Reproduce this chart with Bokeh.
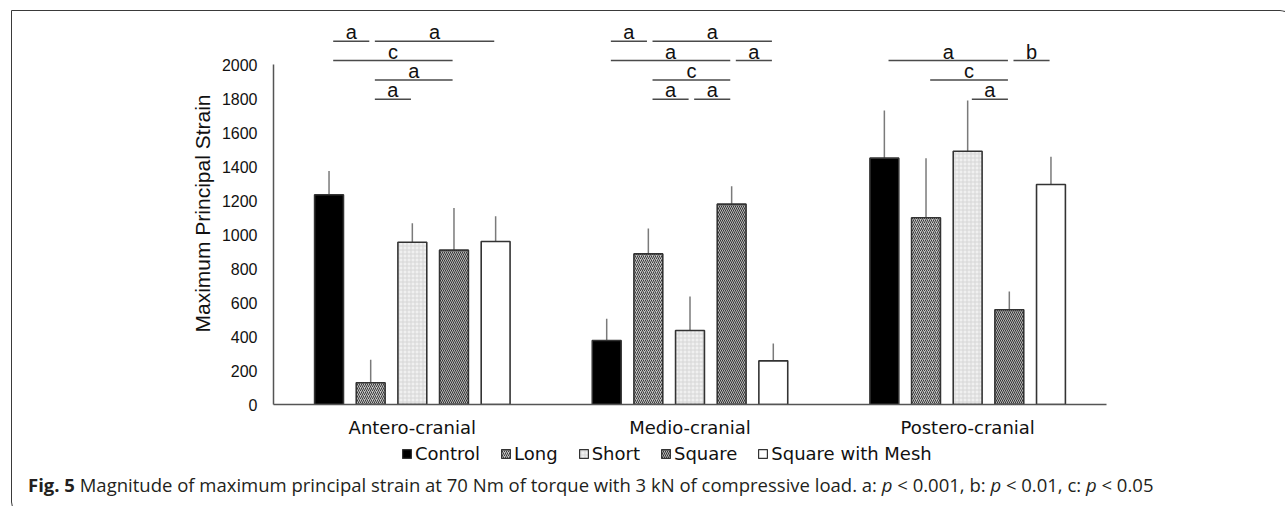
import numpy as np
from bokeh.plotting import figure
from bokeh.models import (Range1d, FixedTicker, ColumnDataSource, Legend,
                          LegendItem, Div)
from bokeh.layouts import column
from bokeh.embed import file_html
from bokeh.resources import INLINE
from bokeh.core.properties import value

# ---------------- data ----------------
categories = ["Antero-cranial", "Medio-cranial", "Postero-cranial"]
series = ["Control", "Long", "Short", "Square", "Square with Mesh"]

control = [1235, 377, 1451]
long_ = [128, 887, 1100]
short = [956, 436, 1492]
square = [909, 1180, 558]
mesh = [960, 257, 1296]

control_err = [141, 128, 280]
long_err = [135, 150, 351]
short_err = [112, 200, 298]
square_err = [249, 105, 107]
mesh_err = [149, 102, 163]

y_ticks = [0, 200, 400, 600, 800, 1000, 1200, 1400, 1600, 1800, 2000]

# significance brackets: category index, from-series, to-series, letter, row
sig_group = [0, 0, 0, 0, 0, 1, 1, 1, 1, 1, 1, 1, 2, 2, 2, 2]
sig_from = [0, 1, 0, 1, 1, 0, 1, 0, 3, 1, 1, 2, 0, 3, 1, 2]
sig_to = [1, 4, 3, 3, 2, 1, 4, 3, 4, 3, 2, 3, 3, 4, 3, 3]
sig_letter = ["a", "a", "c", "a", "a", "a", "a", "a", "a", "c", "a", "a",
              "a", "b", "c", "a"]
sig_row = [0, 0, 1, 2, 3, 0, 0, 1, 1, 2, 3, 3, 1, 1, 2, 3]

caption_html = ('<b>Fig. 5</b> Magnitude of maximum principal strain at 70 Nm of '
                'torque with 3 kN of compressive load. a: <i>p</i> &lt; 0.001, '
                'b: <i>p</i> &lt; 0.01, c: <i>p</i> &lt; 0.05')

values = [control, long_, short, square, mesh]
errors = [control_err, long_err, short_err, square_err, mesh_err]

# ---------------- style ----------------
STEP = 0.15
BAR_W = 0.104
styles = [
    dict(fill_color="black", hatch_pattern=None),
    dict(fill_color="#c4c4c4", hatch_pattern="/", hatch_color="#3a3a3a",
         hatch_scale=4, hatch_weight=1),
    dict(fill_color="#f0f0f0", hatch_pattern="+", hatch_color="#d6d6d6",
         hatch_scale=4, hatch_weight=1),
    dict(fill_color="#b8b8b8", hatch_pattern="\\", hatch_color="#333333",
         hatch_scale=4, hatch_weight=1),
    dict(fill_color="white", hatch_pattern=None),
]


def bar_kw(st, lw=1.6):
    kw = dict(fill_color=st["fill_color"], line_color="#333333", line_width=lw)
    if st["hatch_pattern"]:
        kw.update(hatch_pattern=st["hatch_pattern"], hatch_color=st["hatch_color"],
                  hatch_scale=st["hatch_scale"], hatch_weight=st["hatch_weight"])
    return kw


def xpos(g, j):
    return g + 0.5 + (j - 2) * STEP


p = figure(width=1271, height=430, x_range=Range1d(0, 3), y_range=Range1d(0, 2250),
           output_backend="svg", toolbar_location=None,
           min_border_left=261, min_border_right=177, min_border_top=11,
           min_border_bottom=37)
p.outline_line_color = None
p.xgrid.grid_line_color = None
p.ygrid.grid_line_color = None
p.background_fill_color = "white"
p.border_fill_color = "white"

for j, s in enumerate(series):
    xs = [xpos(g, j) for g in range(len(categories))]
    tops = values[j]
    errs = errors[j]
    src = ColumnDataSource(dict(x=xs, top=tops, etop=[t + e for t, e in zip(tops, errs)]))
    p.segment(x0="x", y0="top", x1="x", y1="etop", source=src,
              line_color="#7a7a7a", line_width=1.5)
    p.vbar(x="x", top="top", width=BAR_W, source=src, **bar_kw(styles[j]))

# significance lines
ROW0 = 2140
ROW_STEP = 114
sx0, sx1, sy, tx = [], [], [], []
for g, a, b, row in zip(sig_group, sig_from, sig_to, sig_row):
    x0 = xpos(g, a) + 0.015
    x1 = xpos(g, b) - 0.005
    y = ROW0 - ROW_STEP * row
    sx0.append(x0)
    sx1.append(x1)
    sy.append(y)
    tx.append((x0 + x1) / 2)
sig_src = ColumnDataSource(dict(x0=sx0, x1=sx1, y=sy, tx=tx, t=sig_letter))
p.segment(x0="x0", y0="y", x1="x1", y1="y", source=sig_src,
          line_color="#4a4a4a", line_width=1.5)
p.text(x="tx", y="y", text="t", source=sig_src, text_font=value("Liberation Sans"),
       text_font_size="20px", text_align="center", text_baseline="bottom",
       y_offset=2, text_color="#111111")

# axes
p.yaxis.ticker = FixedTicker(ticks=y_ticks)
p.yaxis.bounds = (0, 2000)
p.yaxis.axis_line_color = "#555555"
p.yaxis.axis_line_width = 1.5
p.yaxis.major_tick_line_color = None
p.yaxis.minor_tick_line_color = None
p.yaxis.major_label_standoff = 10
p.yaxis.major_label_text_font = "Liberation Sans"
p.yaxis.major_label_text_font_size = "16px"
p.yaxis.major_label_text_color = "#111111"
p.yaxis.axis_label = "Maximum Principal Strain"
p.yaxis.axis_label_text_font = "Liberation Sans"
p.yaxis.axis_label_text_font_size = "21px"
p.yaxis.axis_label_text_font_style = "normal"
p.yaxis.axis_label_text_color = "#111111"
p.yaxis.axis_label_standoff = 5

p.xaxis.ticker = FixedTicker(ticks=[i + 0.5 for i in range(len(categories))])
p.xaxis.major_label_overrides = {i + 0.5: c for i, c in enumerate(categories)}
p.xaxis.axis_line_color = "#555555"
p.xaxis.axis_line_width = 1.5
p.xaxis.major_tick_line_color = None
p.xaxis.minor_tick_line_color = None
p.xaxis.major_label_standoff = 6
p.xaxis.major_label_text_font = "DejaVu Sans"
p.xaxis.major_label_text_font_size = "18px"
p.xaxis.major_label_text_color = "#111111"

# legend strip (separate small figure holding only the legend)
lf = figure(width=1271, height=26, x_range=Range1d(0, 1), y_range=Range1d(0, 1),
            output_backend="svg", toolbar_location=None,
            x_axis_location=None, y_axis_location=None,
            min_border_left=0, min_border_right=0, min_border_top=0, min_border_bottom=0)
lf.outline_line_color = None
lf.xgrid.grid_line_color = None
lf.ygrid.grid_line_color = None
items = []
for j, s in enumerate(series):
    r = lf.vbar(x=np.array([np.nan]), top=np.array([np.nan]), width=0.1,
                **bar_kw(styles[j], lw=1.2))
    items.append(LegendItem(label=s, renderers=[r]))
legend = Legend(items=items, orientation="horizontal", location=(128, 3),
                label_text_font="DejaVu Sans", label_text_font_size="18px",
                label_text_color="#111111",
                glyph_width=11, glyph_height=11, label_standoff=3, spacing=20,
                padding=1, margin=0, border_line_color=None,
                background_fill_alpha=0)
lf.add_layout(legend, "center")

cap = Div(text=caption_html, width=1271, height=38,
          styles={"font-family": "Open Sans", "font-size": "18.5px", "color": "#231f20",
                  "line-height": "26px", "padding-left": "11px", "white-space": "nowrap"})

layout = column(p, lf, cap, styles={"border": "1px solid #3a3a3a",
                                    "border-radius": "0 14px 0 14px",
                                    "margin-left": "11px", "margin-top": "10px"})

open("out.html", "w").write(file_html(layout, INLINE))
